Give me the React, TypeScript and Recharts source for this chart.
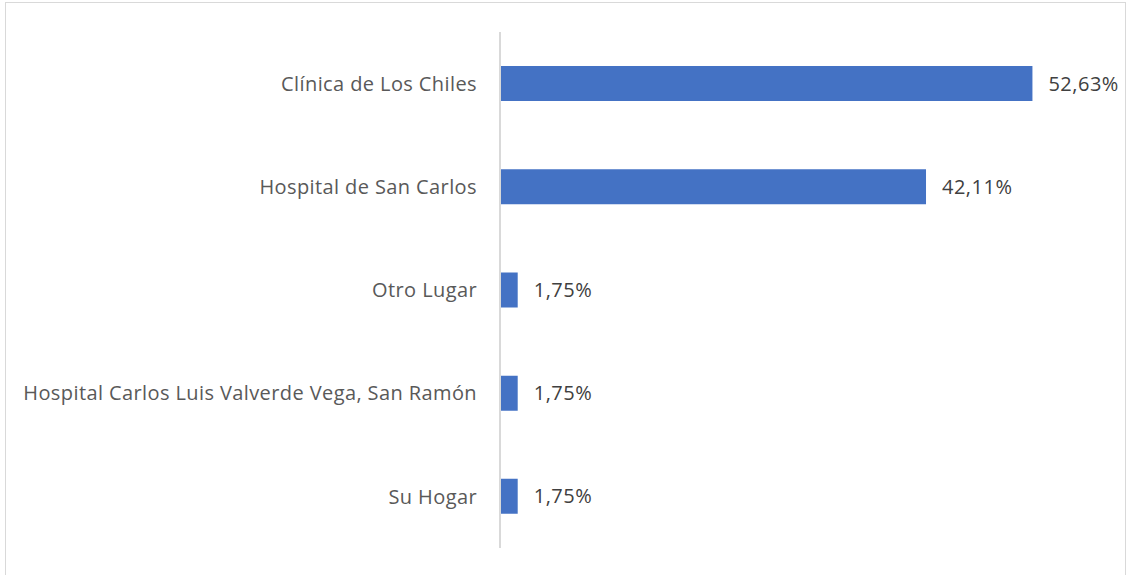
import React from "react";
import { BarChart, Bar, XAxis, YAxis, LabelList } from "recharts";

const places = [
  "Clínica de Los Chiles",
  "Hospital de San Carlos",
  "Otro Lugar",
  "Hospital Carlos Luis Valverde Vega, San Ramón",
  "Su Hogar",
];
const shares = [52.63, 42.11, 1.75, 1.75, 1.75];

const data = places.map((place, i) => ({ place, share: shares[i] }));

const fmt = (v: any) => `${Number(v).toFixed(2).replace(".", ",")}%`;

const font = "'Open Sans', 'Noto Sans', sans-serif";

export default function App() {
  return (
    <div
      style={{
        position: "absolute",
        left: 0,
        top: 0,
        width: 1130,
        height: 575,
        background: "white",
        fontFamily: font,
      }}
    >
      <div
        style={{
          position: "absolute",
          left: 5,
          top: 2,
          width: 1121,
          height: 600,
          border: "1px solid #d9d9d9",
          boxSizing: "border-box",
        }}
      />
      <BarChart
        width={1130}
        height={575}
        data={data}
        layout="vertical"
        margin={{ top: 32, right: 23, bottom: 27, left: 0 }}
        barCategoryGap="33%"
        style={{ position: "absolute", left: 0, top: 0 }}
      >
        <XAxis type="number" domain={[0, 60]} hide />
        <YAxis
          type="category"
          dataKey="place"
          width={500}
          tickLine={false}
          tickSize={0}
          tickMargin={23}
          axisLine={{ stroke: "#d9d9d9", strokeWidth: 2 }}
          tick={{ fill: "#595959", fontSize: 20, fontFamily: font, letterSpacing: 0.4 }}
          interval={0}
        />
        <Bar dataKey="share" fill="#4472c4" isAnimationActive={false}>
          <LabelList
            dataKey="share"
            position="right"
            offset={16}
            formatter={fmt}
            fill="#404040"
            fontSize={20}
            fontFamily={font}
            letterSpacing={0.5}
          />
        </Bar>
      </BarChart>
    </div>
  );
}
